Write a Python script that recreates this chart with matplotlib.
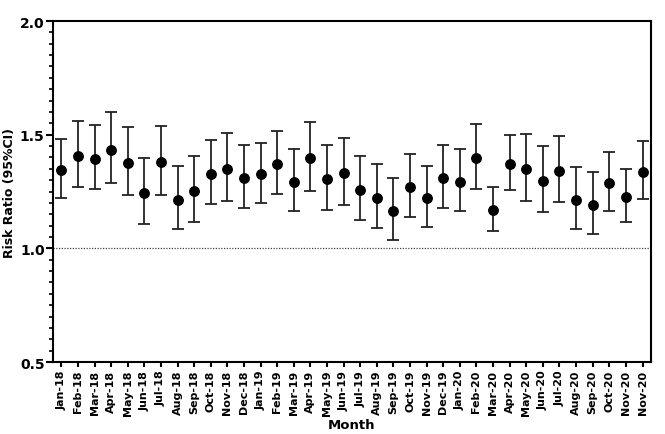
import matplotlib.pyplot as plt
from matplotlib.ticker import MultipleLocator

plt.rcParams["font.family"] = ["DejaVu Sans"]
plt.rcParams["font.weight"] = "bold"

months = [
    "Jan-18", "Feb-18", "Mar-18", "Apr-18", "May-18", "Jun-18",
    "Jul-18", "Aug-18", "Sep-18", "Oct-18", "Nov-18", "Dec-18",
    "Jan-19", "Feb-19", "Mar-19", "Apr-19", "May-19", "Jun-19",
    "Jul-19", "Aug-19", "Sep-19", "Oct-19", "Nov-19", "Dec-19",
    "Jan-20", "Feb-20", "Mar-20", "Apr-20", "May-20", "Jun-20",
    "Jul-20", "Aug-20", "Sep-20", "Oct-20", "Nov-20", "Nov-20",
]
rr = [
    1.344, 1.407, 1.395, 1.433, 1.376, 1.244, 1.379, 1.213, 1.253, 1.327, 1.351, 1.308,
    1.325, 1.372, 1.294, 1.396, 1.303, 1.330, 1.257, 1.222, 1.165, 1.269, 1.222, 1.308,
    1.293, 1.396, 1.169, 1.373, 1.348, 1.298, 1.341, 1.213, 1.191, 1.288, 1.226, 1.338,
]
ci_low = [
    1.223, 1.270, 1.263, 1.286, 1.236, 1.107, 1.236, 1.084, 1.116, 1.195, 1.208, 1.179,
    1.200, 1.238, 1.166, 1.254, 1.167, 1.191, 1.123, 1.088, 1.035, 1.138, 1.093, 1.178,
    1.166, 1.261, 1.077, 1.258, 1.210, 1.161, 1.204, 1.085, 1.063, 1.163, 1.116, 1.217,
]
ci_high = [
    1.479, 1.559, 1.542, 1.599, 1.535, 1.398, 1.540, 1.361, 1.408, 1.477, 1.507, 1.454,
    1.462, 1.518, 1.436, 1.557, 1.454, 1.485, 1.407, 1.370, 1.311, 1.414, 1.364, 1.454,
    1.436, 1.546, 1.270, 1.498, 1.501, 1.452, 1.495, 1.358, 1.336, 1.424, 1.349, 1.473,
]

x = list(range(len(months)))
yerr = [
    [r - lo for r, lo in zip(rr, ci_low)],
    [hi - r for r, hi in zip(rr, ci_high)],
]

fig = plt.figure(figsize=(6.65, 4.35), dpi=100)
ax = fig.add_axes([0.0797, 0.1655, 0.899, 0.7839])

ax.axhline(1.0, color="#444444", lw=0.9, ls=(0, (1, 1.2)), zorder=1)
ax.errorbar(x, rr, yerr=yerr, fmt="o", color="black", ecolor="#222222",
            elinewidth=1.3, capsize=4, capthick=1.3, markersize=6.8, zorder=3)

ax.set_xlim(-0.5, 35.5)
ax.set_ylim(0.5, 2.0)
ax.yaxis.set_major_locator(MultipleLocator(0.5))
ax.yaxis.set_minor_locator(MultipleLocator(0.05))
ax.set_yticklabels([f"{v:.1f}" for v in ax.get_yticks()])
ax.set_xticks(x)
ax.set_xticklabels(months, rotation=90, fontsize=8, fontweight="bold")

for s in ax.spines.values():
    s.set_linewidth(1.5)
ax.tick_params(axis="y", which="major", length=5, width=1.5, labelsize=10, pad=1)
ax.tick_params(axis="y", which="minor", length=3, width=1.2)
ax.tick_params(axis="x", length=3.5, width=1.5, pad=2)

ax.set_ylabel("Risk Ratio (95%CI)", fontsize=9, fontweight="bold", labelpad=3)
ax.set_xlabel("Month", fontsize=9.5, fontweight="bold", labelpad=2)

fig.savefig("out.png", dpi=100)
